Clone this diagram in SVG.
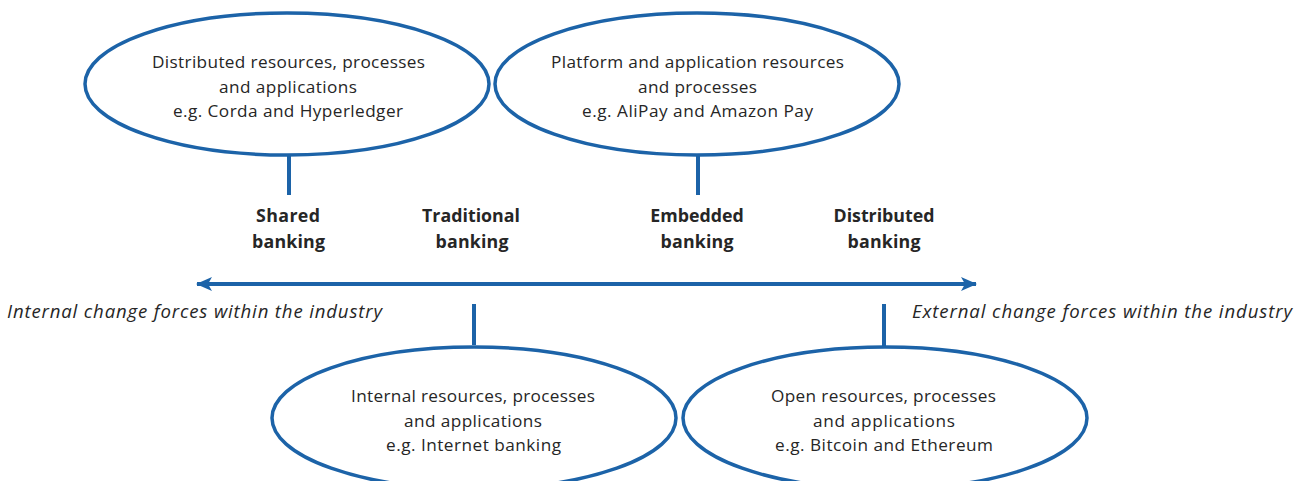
<svg xmlns="http://www.w3.org/2000/svg" width="1306" height="481" viewBox="0 0 1306 481">
<defs>
<style>
.ell{fill:#fff;stroke:#1c63a8;stroke-width:3.5}
.ln{stroke:#1c63a8;stroke-width:4;fill:none}
.t{font-family:"Open Sans",Lato,sans-serif;font-size:17.2px;fill:#262626;text-anchor:middle}
.b{font-family:"Open Sans",Lato,sans-serif;font-size:17.8px;font-weight:bold;fill:#262626;text-anchor:middle}
.i{font-family:"Open Sans",Lato,sans-serif;font-size:18.6px;font-style:italic;fill:#262626}
</style>
<marker id="ah" viewBox="0 0 16 14" refX="15" refY="7" markerWidth="16" markerHeight="14" markerUnits="userSpaceOnUse" orient="auto-start-reverse">
<path d="M0,0 L16,7 L0,14 L4,7 Z" fill="#1c63a8"/>
</marker>
</defs>
<rect width="1306" height="481" fill="#fff"/>
<g id="connectors">
<line class="ln" x1="197" y1="284" x2="976" y2="284" marker-start="url(#ah)" marker-end="url(#ah)"/>
<line class="ln" x1="289" y1="155" x2="289" y2="195"/>
<line class="ln" x1="698" y1="155" x2="698" y2="195"/>
<line class="ln" x1="474" y1="304" x2="474" y2="345"/>
<line class="ln" x1="884" y1="304" x2="884" y2="347"/>
</g>
<g id="node-distributed-res">
<ellipse class="ell" cx="287" cy="84" rx="202" ry="71"/>
<text class="t" x="288.5" y="68" textLength="273" lengthAdjust="spacing">Distributed resources, processes</text>
<text class="t" x="288" y="92.5" textLength="138" lengthAdjust="spacing">and applications</text>
<text class="t" x="288" y="117" textLength="230" lengthAdjust="spacing">e.g. Corda and Hyperledger</text>
</g>
<g id="node-platform-res">
<ellipse class="ell" cx="697" cy="84" rx="202" ry="71"/>
<text class="t" x="697.5" y="68" textLength="293" lengthAdjust="spacing">Platform and application resources</text>
<text class="t" x="697.5" y="92.5" textLength="119" lengthAdjust="spacing">and processes</text>
<text class="t" x="697.5" y="117" textLength="231" lengthAdjust="spacing">e.g. AliPay and Amazon Pay</text>
</g>
<g id="node-internal-res">
<ellipse class="ell" cx="474" cy="418" rx="202" ry="71"/>
<text class="t" x="473" y="402" textLength="244" lengthAdjust="spacing">Internal resources, processes</text>
<text class="t" x="473" y="426.5" textLength="138" lengthAdjust="spacing">and applications</text>
<text class="t" x="473.5" y="451" textLength="175" lengthAdjust="spacing">e.g. Internet banking</text>
</g>
<g id="node-open-res">
<ellipse class="ell" cx="885" cy="418" rx="202" ry="71"/>
<text class="t" x="883.5" y="402" textLength="225" lengthAdjust="spacing">Open resources, processes</text>
<text class="t" x="884" y="426.5" textLength="142" lengthAdjust="spacing">and  applications</text>
<text class="t" x="884" y="451" textLength="218" lengthAdjust="spacing">e.g. Bitcoin and Ethereum</text>
</g>
<g id="label-shared">
<text class="b" x="288" y="222" textLength="64" lengthAdjust="spacing">Shared</text>
<text class="b" x="288.5" y="248" textLength="73" lengthAdjust="spacing">banking</text>
</g>
<g id="label-traditional">
<text class="b" x="471" y="222" textLength="98" lengthAdjust="spacing">Traditional</text>
<text class="b" x="472" y="248" textLength="73" lengthAdjust="spacing">banking</text>
</g>
<g id="label-embedded">
<text class="b" x="697" y="222">Embedded</text>
<text class="b" x="697" y="248" textLength="73" lengthAdjust="spacing">banking</text>
</g>
<g id="label-distributed">
<text class="b" x="884" y="222">Distributed</text>
<text class="b" x="884" y="248" textLength="73" lengthAdjust="spacing">banking</text>
</g>
<g id="label-internal">
<text class="i" x="7" y="318" textLength="375" lengthAdjust="spacing">Internal change forces within the industry</text>
</g>
<g id="label-external">
<text class="i" x="912" y="318" textLength="380" lengthAdjust="spacing">External change forces within the industry</text>
</g>
</svg>
